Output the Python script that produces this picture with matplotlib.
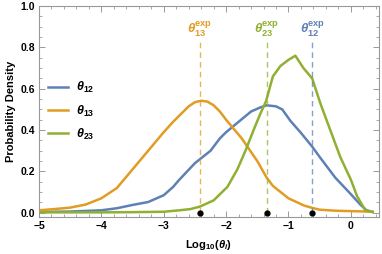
import matplotlib
matplotlib.use("Agg")
import matplotlib.pyplot as plt
from matplotlib.ticker import MultipleLocator

plt.rcParams['font.family'] = ['Liberation Sans', 'DejaVu Sans']
plt.rcParams['mathtext.fontset'] = 'custom'
plt.rcParams['mathtext.rm'] = 'Liberation Sans'
plt.rcParams['mathtext.bf'] = 'Liberation Sans:bold'
plt.rcParams['mathtext.it'] = 'Liberation Sans:italic'
plt.rcParams['mathtext.bfit'] = 'Liberation Sans:bold:italic'

# theta_12 (blue)
x12 = [-5.0, -4.5, -4.0, -3.75, -3.5, -3.25, -3.0, -2.85, -2.75, -2.5, -2.25, -2.1, -2.0, -1.8, -1.6, -1.45,
       -1.35, -1.2, -1.1, -0.97, -0.81, -0.62, -0.5, -0.25, 0.0, 0.15, 0.25, 0.35]
y12 = [0.004, 0.006, 0.012, 0.022, 0.038, 0.052, 0.085, 0.125, 0.16, 0.24, 0.30, 0.36, 0.39, 0.44, 0.49, 0.51,
       0.52, 0.515, 0.50, 0.445, 0.39, 0.32, 0.27, 0.17, 0.09, 0.04, 0.012, 0.004]

# theta_13 (orange)
x13 = [-5.0, -4.75, -4.5, -4.25, -4.0, -3.75, -3.5, -3.25, -3.0, -2.85, -2.75, -2.6, -2.5, -2.4, -2.3, -2.2,
       -2.1, -2.0, -1.75, -1.5, -1.35, -1.25, -1.0, -0.75, -0.6, -0.5, -0.25, 0.0, 0.25, 0.35]
y13 = [0.012, 0.018, 0.025, 0.04, 0.07, 0.12, 0.21, 0.30, 0.39, 0.44, 0.47, 0.515, 0.535, 0.542, 0.538, 0.52,
       0.49, 0.45, 0.36, 0.25, 0.17, 0.13, 0.07, 0.035, 0.022, 0.015, 0.01, 0.008, 0.006, 0.005]

# theta_23 (green)
x23 = [-5.0, -4.0, -3.5, -3.0, -2.75, -2.57, -2.42, -2.2, -1.98, -1.82, -1.69, -1.56, -1.45, -1.36,
       -1.25, -1.13, -1.0, -0.89, -0.76, -0.62, -0.49, -0.33, -0.17, 0.0, 0.1, 0.23, 0.35]
y23 = [0.002, 0.002, 0.003, 0.005, 0.012, 0.018, 0.03, 0.06, 0.125, 0.21, 0.30, 0.40, 0.48, 0.54,
       0.66, 0.71, 0.74, 0.76, 0.70, 0.65, 0.53, 0.40, 0.27, 0.16, 0.08, 0.013, 0.003]

exp_x = [-2.42, -1.35, -0.62]
exp_labels = [r'$\mathbfit{\theta}_{\mathbf{13}}^{\mathbf{exp}}$',
              r'$\mathbfit{\theta}_{\mathbf{23}}^{\mathbf{exp}}$',
              r'$\mathbfit{\theta}_{\mathbf{12}}^{\mathbf{exp}}$']

blue = '#5E81B5'
orange = '#E19C24'
green = '#8FB032'
exp_colors = [orange, green, blue]

fig = plt.figure(figsize=(3.82, 2.54), dpi=100)
ax = fig.add_axes([0.102, 0.146, 0.890, 0.830])

ax.plot(x12, y12, color=blue, lw=1.8, label=r'$\mathbfit{\theta}_{\mathbf{12}}$')
ax.plot(x13, y13, color=orange, lw=1.8, label=r'$\mathbfit{\theta}_{\mathbf{13}}$')
ax.plot(x23, y23, color=green, lw=1.8, label=r'$\mathbfit{\theta}_{\mathbf{23}}$')

for xv, lab, c in zip(exp_x, exp_labels, exp_colors):
    ax.plot([xv, xv], [0, 0.846], color=c, lw=1.0, alpha=0.75, dashes=(4, 3))
    ax.text(xv, 0.885, lab, color=c, fontsize=9.5, ha='center', va='center')
ax.plot(exp_x, [0, 0, 0], 'o', color='black', ms=3.5, clip_on=False, zorder=5)

ax.set_xlim(-5, 0.45)
ax.set_ylim(-0.02, 1.0)
ax.xaxis.set_major_locator(MultipleLocator(1))
ax.xaxis.set_minor_locator(MultipleLocator(0.2))
ax.yaxis.set_major_locator(MultipleLocator(0.2))
ax.yaxis.set_minor_locator(MultipleLocator(0.05))
ax.set_yticks([0, 0.2, 0.4, 0.6, 0.8, 1.0])
ax.set_yticklabels(['0.0', '0.2', '0.4', '0.6', '0.8', '1.0'])
ax.set_xticks([-5, -4, -3, -2, -1, 0])
ax.set_xticklabels(['\u22125', '\u22124', '\u22123', '\u22122', '\u22121', '0'])

ax.tick_params(which='both', direction='in', top=True, right=True, color='#999999')
ax.tick_params(which='major', length=4, width=0.7, labelsize=7.5, pad=3)
ax.tick_params(which='minor', length=2, width=0.6)
for lab in ax.get_xticklabels() + ax.get_yticklabels():
    lab.set_fontweight('bold')
for sp in ax.spines.values():
    sp.set_color('#999999')
    sp.set_linewidth(0.8)

ax.set_ylabel('Probability Density', fontsize=8, fontweight='bold', labelpad=3)
ax.set_xlabel(r'$\mathbf{Log}_{\mathbf{10}}\mathbf{(}\mathbfit{\theta}_{\mathbfit{i}}\mathbf{)}$', fontsize=8, labelpad=5)

leg = ax.legend(loc='upper left', bbox_to_anchor=(0.0, 0.69), frameon=False, fontsize=9,
                handlelength=1.6, handletextpad=0.7, labelspacing=0.65, borderaxespad=0.3)

fig.savefig('out.png', dpi=100)
